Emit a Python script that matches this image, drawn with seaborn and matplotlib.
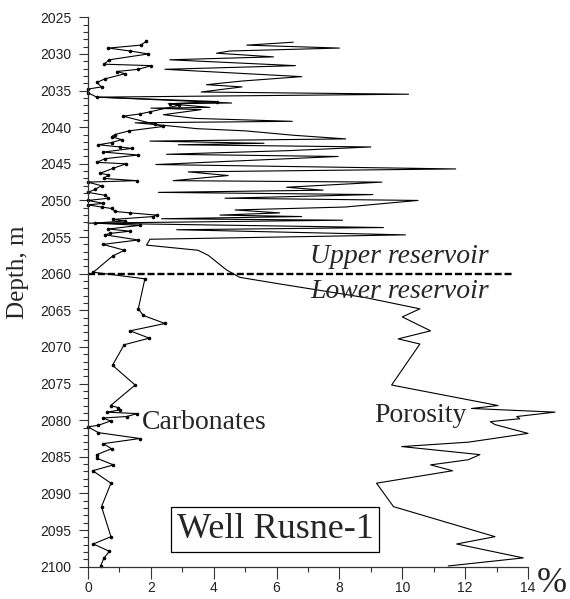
import matplotlib.pyplot as plt
import seaborn as sns
import numpy as np
import pandas as pd
from matplotlib.ticker import MultipleLocator

# 탄산염 함량 (%) - 깊이 (m)
carb_depth = [2028.3, 2028.8, 2029.2, 2029.6, 2030.0, 2030.8, 2031.4, 2031.6, 2032.1, 2032.4,
              2032.7, 2033.4, 2033.9, 2034.5, 2034.8, 2035.3, 2035.9, 2036.5, 2036.8, 2037.0,
              2037.9, 2038.2, 2038.5, 2039.6, 2039.9, 2040.5, 2041.0, 2041.3, 2041.7, 2042.1,
              2042.4, 2042.7, 2042.9, 2043.4, 2043.8, 2044.3, 2044.8, 2045.0, 2045.6, 2046.3,
              2046.5, 2047.0, 2047.3, 2047.5, 2048.0, 2048.5, 2048.9, 2049.3, 2049.7, 2050.0,
              2050.4, 2050.6, 2050.9, 2051.1, 2051.5, 2051.7, 2052.0, 2052.2, 2052.6, 2052.8,
              2053.1, 2053.4, 2053.9, 2054.2, 2054.5, 2054.7, 2055.4, 2056.0, 2056.8, 2057.6,
              2059.8, 2060.7, 2064.8, 2065.7, 2066.8, 2067.8, 2068.8, 2069.7, 2072.5, 2075.2,
              2078.0, 2078.3, 2078.6, 2078.9, 2079.1, 2079.5, 2079.7, 2080.1, 2080.7, 2080.9,
              2081.7, 2082.5, 2083.2, 2083.9, 2084.7, 2085.2, 2086.1, 2086.9, 2088.6, 2091.8,
              2095.9, 2096.9, 2097.9, 2098.8, 2099.9]
carb_value = [1.85, 1.68, 0.65, 1.34, 1.92, 0.68, 0.51, 2.02, 1.60, 0.91,
              1.18, 0.54, 0.28, 0.43, 0.0, 0.0, 0.28, 4.1, 2.6, 2.9,
              1.97, 1.65, 1.12, 2.13, 2.4, 1.31, 0.86, 0.75, 1.07, 0.75,
              0.33, 1.02, 1.39, 0.49, 1.6, 0.54, 0.28, 1.21, 0.81, 0.38,
              0.65, 0.51, 1.55, 0.0, 0.43, 0.22, 0.0, 0.54, 0.65, 0.0,
              0.49, 0.0, 0.43, 0.75, 0.86, 1.34, 2.18, 2.08, 0.78, 1.18,
              0.22, 1.65, 0.65, 1.34, 0.7, 0.54, 1.6, 0.47, 1.16, 0.78,
              0.17, 1.81, 1.6, 1.76, 2.45, 1.34, 1.95, 1.15, 0.78, 1.5,
              0.72, 0.97, 1.02, 0.61, 1.57, 1.23, 0.47, 0.72, 0.33, 0.0,
              0.33, 1.65, 0.49, 0.75, 0.28, 0.28, 0.81, 0.15, 0.73, 0.43,
              0.73, 0.17, 0.68, 0.51, 0.40]

# 공극률 (%) - 깊이 (m)
por_depth = [2028.4, 2028.8, 2029.2, 2029.6, 2029.9, 2030.4, 2030.8, 2031.6, 2032.1, 2033.1,
             2033.7, 2034.2, 2034.5, 2035.2, 2035.5, 2035.9, 2036.7, 2036.8, 2037.3, 2037.4,
             2037.6, 2038.3, 2038.8, 2039.2, 2039.4, 2039.7, 2040.2, 2040.5, 2041.1, 2041.6,
             2041.9, 2042.2, 2042.4, 2042.7, 2043.2, 2043.7, 2044.0, 2045.1, 2045.7, 2046.1,
             2046.6, 2047.3, 2047.5, 2048.2, 2048.6, 2048.9, 2049.2, 2049.7, 2050.0, 2050.9,
             2051.3, 2051.7, 2052.0, 2052.2, 2052.5, 2052.7, 2053.1, 2053.7, 2054.0, 2054.7,
             2055.3, 2056.1, 2056.8, 2057.5, 2059.5, 2060.5, 2061.4, 2063.3, 2064.8, 2065.9,
             2067.8, 2068.9, 2069.6, 2075.2, 2078.0, 2078.4, 2078.9, 2079.5, 2079.8, 2080.2,
             2080.6, 2081.8, 2082.5, 2083.0, 2083.6, 2084.7, 2085.4, 2086.1, 2086.9, 2088.6,
             2091.8, 2095.9, 2096.9, 2098.8, 2099.9]
por_value = [6.53, 5.05, 8.0, 4.52, 4.09, 5.9, 2.6, 6.6, 2.45, 6.8,
             4.9, 3.77, 4.9, 3.6, 10.2, 0.3, 4.57, 2.55, 3.88, 2.0,
             3.6, 2.4, 3.4, 6.5, 1.5, 2.3, 3.46, 5.0, 6.53, 8.2,
             1.97, 5.6, 2.87, 9.0, 6.4, 2.5, 7.96, 2.16, 11.7, 3.19,
             4.46, 2.71, 9.35, 6.32, 7.48, 2.24, 9.06, 4.36, 10.5, 8.18,
             4.68, 6.1, 4.2, 6.8, 2.34, 8.1, 0.0, 9.4, 2.82, 10.1,
             1.97, 1.86, 3.5, 3.83, 4.41, 4.83, 6.1, 8.87, 10.56, 10.0,
             10.9, 9.87, 10.56, 9.66, 13.05, 12.2, 14.86, 13.64, 13.74, 12.8,
             12.95, 14.0, 12.9, 12.1, 9.98, 12.47, 12.1, 10.9, 11.6, 9.18,
             9.72, 12.95, 11.73, 13.85, 11.46]

boundary_depth = 2060

sns.set_style('ticks')
plt.rcParams['font.family'] = ['Liberation Sans', 'DejaVu Sans']
serif = ['Liberation Serif', 'DejaVu Serif']

fig = plt.figure(figsize=(5.7, 5.99), dpi=100)
ax = fig.add_axes([88 / 570, 1 - 566.7 / 599, 440 / 570, 549.4 / 599])

# 탄산염 (점 표시)
sns.lineplot(x=carb_value, y=carb_depth, sort=False, estimator=None, color='black',
             lw=0.8, marker='o', markersize=2.6, markeredgewidth=0, ax=ax, clip_on=False)
# 공극률
sns.lineplot(x=por_value, y=por_depth, sort=False, estimator=None, color='black',
             lw=0.8, ax=ax, clip_on=False)

# 저류층 경계
ax.axhline(boundary_depth, xmin=0, xmax=13.5 / 14, color='black', lw=1.7,
           linestyle=(0, (3.0, 1.2)))

ax.set_xlim(0, 14)
ax.set_ylim(2100, 2025)
ax.set_xticks(range(0, 15, 2))
ax.xaxis.set_minor_locator(MultipleLocator(1))
ax.yaxis.set_major_locator(MultipleLocator(5))
ax.yaxis.set_minor_locator(MultipleLocator(1))
ax.set_xlabel('')
ax.set_ylabel('')

sns.despine(ax=ax)
for s in ['left', 'bottom']:
    ax.spines[s].set_linewidth(0.9)
    ax.spines[s].set_color('#333333')
ax.tick_params(which='major', length=7, width=0.8, color='#333333', labelsize=10,
               labelcolor='#222222')
ax.tick_params(which='minor', length=3.5, width=0.8, color='#333333')
ax.tick_params(axis='x', which='major', length=8.5, pad=2)
ax.tick_params(axis='y', which='major', length=6.5, pad=5.5)

# 텍스트
ax.text(9.9, 2058.6, 'Upper reservoir', family=serif, style='italic', fontsize=20,
        ha='center', va='baseline')
ax.text(9.9, 2063.3, 'Lower reservoir', family=serif, style='italic', fontsize=20,
        ha='center', va='baseline')
ax.text(1.73, 2081.2, 'Carbonates', family=serif, fontsize=20, ha='left', va='baseline')
ax.text(9.12, 2080.3, 'Porosity', family=serif, fontsize=20, ha='left', va='baseline')
ax.text(5.95, 2096.1, 'Well Rusne-1', family=serif, fontsize=26, ha='center', va='baseline',
        bbox=dict(boxstyle='square,pad=0.16', facecolor='white', edgecolor='black', lw=0.9))

fig.text(18 / 570, 1 - 272 / 599, 'Depth, m', family=serif, fontsize=18, rotation=90,
         ha='center', va='center')
fig.text(537 / 570, 1 - 592 / 599, '%', family=serif, fontsize=26, ha='left', va='baseline')

fig.savefig('out.png', dpi=100)
